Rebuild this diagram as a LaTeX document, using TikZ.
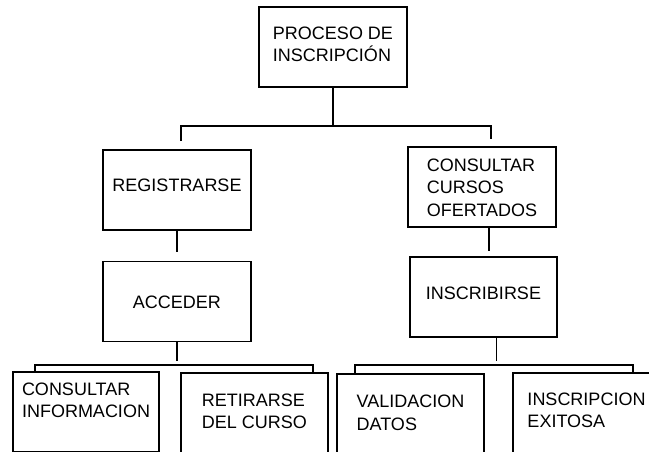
\documentclass[tikz,border=0pt]{standalone}
\usepackage{fontspec}
\setmainfont{Liberation Sans}
\tikzset{caja/.style={draw,minimum width=148pt,minimum height=80pt,align=left,text height=13pt,font=\fontsize{18}{22.5}\selectfont},
	dos/.style={text height=35.5pt}}
\begin{document}
\begin{tikzpicture}[x=1pt,y=-1pt,line width=1.3pt]
				\clip(0,0)rectangle(649,451);
				\node[caja,dos,text depth=6pt](proc)at(333,47){PROCESO DE\\INSCRIPCIÓN};
				\node[caja,text depth=10pt](reg)at(177,190){REGISTRARSE};
				\node[caja,text height=58pt,text depth=0pt](cons)at(482,187){CONSULTAR\\CURSOS\\OFERTADOS};
				\node[caja,text depth=0pt](acc)at(177,301.5){ACCEDER};
				\node[caja,text depth=8pt,minimum width=147pt](insc)at(483.5,297){INSCRIBIRSE};
				\node[caja,dos,text depth=24pt,minimum width=146pt](info)at(86,412){CONSULTAR\\INFORMACION};
				\node[caja,dos,text depth=4pt,minimum width=147pt](reti)at(254.5,413){RETIRARSE\\DEL CURSO};
				\node[caja,dos,text depth=3pt,minimum width=147pt](vali)at(410.5,414){VALIDACION\\DATOS};
				\node[caja,dos,text depth=6pt,minimum width=147pt](exit)at(586.5,413){INSCRIPCION\\EXITOSA};
				\coordinate(b1l)at(181,126);
				\coordinate(b1r)at(491,126);
				\coordinate(b2l)at(35,365);
				\coordinate(b2r)at(313,365);
				\coordinate(b3l)at(355,365);
				\coordinate(b3r)at(633,365);
				\draw(proc.south)--(proc.south|-b1l);
				\draw(b1l)++(0,15)--(b1l)--(b1r)--++(0,13);
				\draw[shorten >=9pt](reg.south)--(acc.north);
				\draw([xshift=7pt]cons.south)--++(0,23);
				\draw(acc.south)--++(0,19);
				\draw(b2l|-info.north)--(b2l)--(b2r)--(b2r|-reti.north);
				\draw([xshift=13pt]insc.south)--++(0,23);
				\draw(b3l|-vali.north)--(b3l)--(b3r)--(b3r|-exit.north);
			\end{tikzpicture}
\end{document}
